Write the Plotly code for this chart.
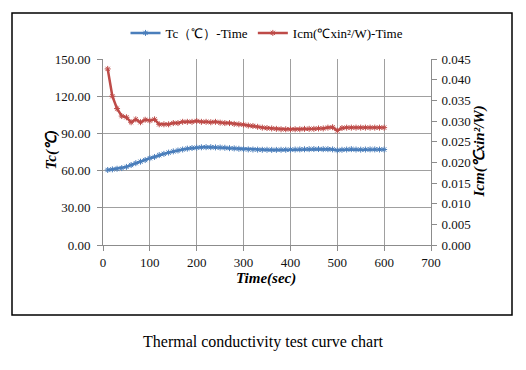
import plotly.graph_objects as go

time_s = [10, 20, 30, 40, 50, 60, 70, 80, 90, 100,
          110, 120, 130, 140, 150, 160, 170, 180, 190, 200,
          210, 220, 230, 240, 250, 260, 270, 280, 290, 300,
          310, 320, 330, 340, 350, 360, 370, 380, 390, 400,
          410, 420, 430, 440, 450, 460, 470, 480, 490, 500,
          510, 520, 530, 540, 550, 560, 570, 580, 590, 600]

tc = [60.5, 61.0, 61.5, 62.0, 63.0, 64.5, 66.0, 67.2, 68.5, 70.0,
      71.0, 72.5, 73.5, 74.5, 75.5, 76.2, 77.0, 77.7, 78.2, 78.5,
      78.8, 78.9, 78.9, 78.7, 78.6, 78.4, 78.1, 77.9, 77.6, 77.3,
      77.1, 77.0, 76.9, 76.8, 76.8, 76.7, 76.7, 76.8, 76.8, 76.9,
      77.0, 77.1, 77.2, 77.3, 77.4, 77.4, 77.3, 77.3, 77.1, 76.4,
      76.8, 77.0, 77.3, 77.0, 76.9, 77.0, 77.1, 77.1, 77.0, 77.0]

icm = [0.0426, 0.0360, 0.0330, 0.0312, 0.0309, 0.0297, 0.0304, 0.0297, 0.0303, 0.0301,
       0.0304, 0.0292, 0.0292, 0.0292, 0.0295, 0.0295, 0.0298, 0.0298, 0.0298, 0.0300,
       0.0298, 0.0298, 0.0297, 0.0298, 0.0296, 0.0295, 0.0295, 0.0293, 0.0292, 0.0291,
       0.0289, 0.0288, 0.0286, 0.0284, 0.0283, 0.0282, 0.0281, 0.0280, 0.0280, 0.0280,
       0.0280, 0.0280, 0.0281, 0.0281, 0.0281, 0.0282, 0.0282, 0.0284, 0.0285, 0.0277,
       0.0283, 0.0284, 0.0284, 0.0284, 0.0284, 0.0284, 0.0284, 0.0284, 0.0284, 0.0284]

left_ticks = [0, 30, 60, 90, 120, 150]
right_ticks = [0.000, 0.005, 0.010, 0.015, 0.020, 0.025, 0.030, 0.035, 0.040, 0.045]
x_ticks = [0, 100, 200, 300, 400, 500, 600, 700]

blue = "#4A7EBB"
red = "#BE4B48"
serif = "Liberation Serif, Times New Roman, serif"

fig = go.Figure()
fig.add_trace(go.Scatter(
    x=time_s, y=tc, name="Tc（℃）-Time", mode="lines+markers",
    line=dict(color=blue, width=2.5),
    marker=dict(symbol="asterisk-open", size=5, color=blue, line=dict(color=blue, width=1)),
))
fig.add_trace(go.Scatter(
    x=time_s, y=icm, name="Icm(℃xin²/W)-Time", mode="lines+markers", yaxis="y2",
    line=dict(color=red, width=2.5),
    marker=dict(symbol="asterisk-open", size=5, color=red, line=dict(color=red, width=1)),
))

axis_common = dict(
    showline=True, linecolor="#8C8C8C", linewidth=1,
    ticks="outside", ticklen=5, tickcolor="#8C8C8C",
    tickfont=dict(family=serif, size=13, color="#111111"),
    zeroline=False,
)

fig.update_layout(
    width=526, height=370,
    margin=dict(l=103, r=95, t=59, b=125),
    paper_bgcolor="white", plot_bgcolor="white",
    font=dict(family=serif, color="#000000"),
    showlegend=True,
    legend=dict(orientation="h", x=0.5, xanchor="center", y=1.14, yanchor="middle",
                font=dict(family=serif, size=13, color="#000000"),
                itemwidth=30, tracegroupgap=0, bgcolor="rgba(0,0,0,0)"),
    xaxis=dict(range=[0, 700], tickvals=x_ticks, ticktext=[str(v) for v in x_ticks],
               showgrid=True, gridcolor="#A0A0A0", gridwidth=1, **axis_common),
    yaxis=dict(range=[0, 150], tickvals=left_ticks,
               ticktext=[f"{v:.2f}" for v in left_ticks], ticklabelstandoff=4,
               showgrid=True, gridcolor="#A0A0A0", gridwidth=1, **axis_common),
    yaxis2=dict(range=[0, 0.045], tickvals=right_ticks,
                ticktext=[f"{v:.3f}" for v in right_ticks], ticklabelstandoff=2,
                overlaying="y", side="right", showgrid=False, **axis_common),
)

fig.add_annotation(text="<b><i>Time(sec)</i></b>", xref="paper", yref="paper",
                   x=(266 - 103) / 328, y=(245 - 289) / 186, showarrow=False,
                   font=dict(family=serif, size=15, color="#000000"))
fig.add_annotation(text="<b><i>Tc(℃)</i></b>", xref="paper", yref="paper",
                   x=(40 - 103) / 328, y=(245 - 150) / 186, showarrow=False, textangle=-90,
                   font=dict(family=serif, size=15, color="#000000"))
fig.add_annotation(text="<b><i>Icm(℃xin²/W)</i></b>", xref="paper", yref="paper",
                   x=(489 - 103) / 328, y=(245 - 152) / 186, showarrow=False, textangle=-90,
                   font=dict(family=serif, size=15, color="#000000"))
fig.add_annotation(text="Thermal conductivity test curve chart", xref="paper", yref="paper",
                   x=(263 - 103) / 328, y=(245 - 353) / 186, showarrow=False,
                   font=dict(family=serif, size=16, color="#000000"))

fig.add_shape(type="rect", xref="paper", yref="paper",
              x0=(12 - 103) / 328, x1=(512 - 103) / 328,
              y0=(245 - 315) / 186, y1=(245 - 13) / 186,
              line=dict(color="#000000", width=1.5), fillcolor="rgba(0,0,0,0)")

fig.write_html("out.html", config={"displayModeBar": False},
               post_script="document.body.style.margin='0';document.body.style.overflow='hidden';")
